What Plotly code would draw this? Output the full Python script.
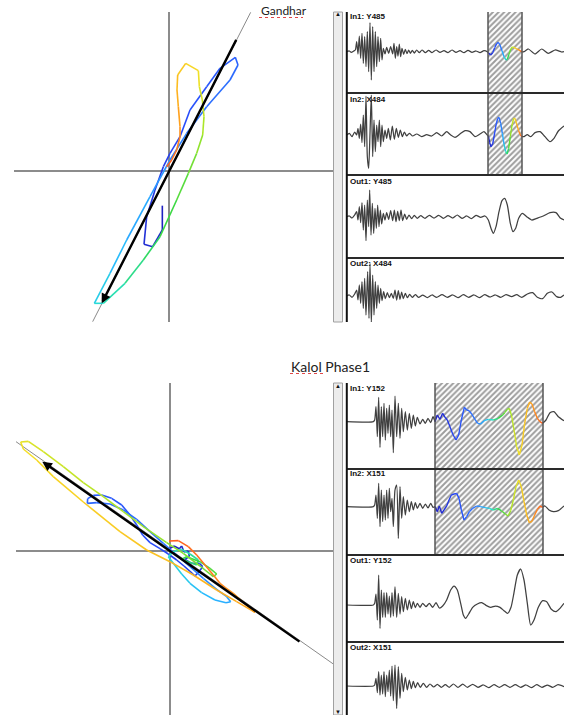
import plotly.graph_objects as go
from plotly.colors import sample_colorscale

W, H = 564, 715

# ---------------- Gandhar ----------------
# particle motion (X484 horizontal, Y485 vertical) inside the analysis window
gandhar_pm_x = [-21, -21, -50, -76, -68, -43, -18, 2, 32, 62, 112, 152, 198, 206, 182, 112, 52, 2, -58, -128,
                -178, -225, -198, -133, -78, -28, 22, 57, 82, 100, 104, 99, 90, 87, 49, 25, 23, 27, 32, 32, 22, 7, -8]
gandhar_pm_y = [-104, -177, -227, -220, -137, -57, 13, 53, 103, 183, 253, 308, 341, 318, 273, 193, 113, 33, -77, -207,
                -307, -397, -397, -337, -267, -197, -87, -7, 53, 108, 163, 213, 253, 301, 323, 288, 243, 193, 133, 103, 63, 33, 13]
gandhar_pol_x = [-230, 244]
gandhar_pol_y = [-452, 476]
gandhar_arrow_x = [203, -203]   # tail, head
gandhar_arrow_y = [398, -397]
gandhar_window = [424, 526]

gandhar_in1_t = [0, 8, 14, 20, 26, 30, 34, 38, 42, 46, 50, 54, 58, 62, 66, 70, 74, 78, 82, 86, 90, 94, 98, 102, 106,
                 110, 115, 120, 126, 132, 138, 142, 146, 150, 154, 158, 162, 166, 171, 176, 181, 186, 191, 197, 203,
                 210, 218, 226, 236, 246, 256, 268, 280, 292, 304, 316, 328, 340, 352, 364, 376, 388, 400, 412, 423,
                 425, 432, 438, 444, 450, 455, 460, 466, 472, 478, 482, 487, 492, 497, 502, 508, 514, 520, 526,
                 532, 545, 565, 585, 605, 625, 645, 652]
gandhar_in1_a = [0, 2, -2, 1, 5, 30, -7, 47, -20, 55, -35, 45, -45, 60, -60, 87, -85, 75, -60, 60, -45, 45, -30, 40, -25,
                 10, -7, 13, -5, 15, -7, 25, -20, 15, -13, 23, -15, 10, -8, 7, -6, 5, -5, 4, -4,
                 5, -3, 5, -3, 4, -3, 5, -2, 3, -3, 5, -2, 3, -3, 4, -2, 2, -3, 3, -1,
                 -3, -10, -3, 12, 24, 28, 20, 3, -15, -25, -23, -8, 7, 14, 13, 9, 7, 3, -1,
                 0, 8, -7, 8, -5, 5, -1, 0]

gandhar_in2_t = [0, 8, 16, 24, 30, 34, 38, 42, 46, 50, 54, 58, 62, 66, 70, 74, 78, 82, 86, 90, 94, 98, 102, 106, 110,
                 115, 120, 125, 131, 137, 143, 149, 155, 161, 167, 173, 180, 188, 198, 210, 225, 240, 255, 270, 285,
                 300, 312, 325, 340, 355, 370, 385, 400, 412, 422,
                 425, 429, 433, 438, 443, 448, 453, 457, 462, 467, 472, 477, 481, 486, 491, 496, 501, 505, 510, 516, 521, 526,
                 532, 542, 552, 565, 580, 595, 610, 622, 635, 652]
gandhar_in2_a = [0, 5, -5, 9, 0, 20, -10, 33, -23, 60, -35, 117, -65, -100, 5, 120, -65, 45, -50, 30, -20, 45, -35, 30, -20,
                 15, -10, 20, -15, 27, -13, 20, -7, 15, -5, 9, -3, 5, -3, 3, -5, 1, -3, 7, -3,
                 10, 0, -7, 3, 13, 10, -5, 3, 10, 0,
                 -3, -23, -35, -27, 0, 30, 50, 53, 35, 5, -27, -50, -57, -40, -5, 30, 50, 50, 33, 13, 0, -5,
                 -5, 1, -5, 7, 10, -5, -20, -10, 12, 27]

gandhar_out1_t = [0, 8, 16, 24, 30, 34, 38, 42, 46, 50, 54, 58, 62, 66, 69, 73, 77, 81, 85, 89, 93, 97, 101, 105, 110,
                  115, 120, 126, 132, 138, 143, 148, 153, 158, 163, 168, 174, 180, 187, 195, 203, 212, 222, 235, 248,
                  262, 276, 290, 304, 318, 332, 346, 360, 374, 388, 402, 415, 425, 433, 440, 448, 457, 466, 474, 482,
                  491, 499, 507, 516, 527, 540, 555, 570, 590, 610, 628, 642, 652]
gandhar_out1_a = [0, 2, -4, 5, 15, -10, 30, -18, 42, -40, 35, -72, 50, -30, 80, -55, 40, -50, 25, -35, 35, -30, 20, -22, 10,
                  -10, 12, -8, 18, -12, 20, -15, 16, -12, 20, -12, 8, -8, 5, -6, 4, -5, 3, -5, 4,
                  -4, 4, -5, 3, -4, 5, -5, 2, -6, 4, -2, 2, -10, -35, -50, -30, 15, 48, 55, 35,
                  -20, -45, -35, -5, 10, 0, -10, -5, 2, 12, 12, -5, -10]

gandhar_out2_t = [0, 8, 16, 24, 30, 34, 38, 42, 46, 50, 54, 58, 63, 67, 70, 74, 78, 82, 86, 90, 94, 98, 102, 106, 111,
                  116, 122, 128, 134, 140, 145, 150, 155, 160, 165, 170, 176, 182, 189, 197, 206, 216, 228, 242, 256,
                  270, 286, 302, 318, 334, 350, 366, 382, 398, 414, 430, 446, 462, 478, 495, 510, 525, 542, 558, 572,
                  588, 602, 616, 630, 642, 652]
gandhar_out2_a = [0, 3, -4, 6, 18, -12, 33, -22, 43, -37, 53, -57, 73, -67, 98, -82, 63, -57, 43, -37, 33, -22, 23, -14, 13,
                  -8, 10, -5, 8, -7, 18, -12, 16, -10, 12, -8, 8, -5, 5, -4, 4, -4, 3, -5, 3,
                  -4, 4, -4, 3, -5, 4, -4, 3, -5, 4, -3, 3, -4, 4, -2, 4, -4, 6, 10, -4,
                  -8, 8, 12, -2, -4, 3]

# ---------------- Kalol Phase1 ----------------
kalol_pm_x = [-5, 12, 28, 35, 42, 55, 58, 45, 65, 88, 98, 88, 75, 60, 42, 20, -5, -30,
              -60, -82, -100, -120, -145, -175, -205, -230, -247, -248, -220, -180, -140, -100, -60, -20,
              20, 60, 100, 140, 170, 182, 168, 135, 95, 60, 35,
              10, -5, 10, 35, 60, 85,
              80, 55, 35, 50, 90, 120, 140, 130, 90, 40, -10,
              -80, -140, -200, -260, -320, -380, -425, -448,
              -440, -400, -350, -260, -150, -70, 0, 70, 140, 200, 255,
              225, 190, 165,
              150, 130, 105, 80, 55, 25, -3]
kalol_pm_y = [4, 14, 6, 14, -4, -1, -18, -26, -38, -38, -48, -62, -76, -62, -46, -28, -10, 6,
              24, 47, 77, 107, 137, 157, 167, 166, 156, 142, 144, 140, 122, 94, 57, 22,
              -13, -48, -83, -116, -138, -153, -156, -148, -126, -98, -70,
              -38, -18, -3, 4, -10, -28,
              -43, -33, -26, -18, -33, -53, -70, -78, -46, -8, 24,
              72, 117, 162, 204, 252, 297, 328, 326,
              305, 272, 222, 146, 57, 2, -33, -73, -118, -153, -185,
              -160, -128, -110,
              -98, -73, -43, -13, 12, 30, 29]
kalol_pol_x = [-462, 490]
kalol_pol_y = [327, -340]
kalol_arrow_x = [393, -383]   # tail, head
kalol_arrow_y = [-276, 267]
kalol_window = [265, 589]

kalol_in1_t = [0, 80, 84, 88, 92, 96, 100, 104, 108, 112, 116, 120, 124, 128, 132, 136, 140, 145, 150, 155,
               160, 165, 170, 176, 182, 188, 194, 200, 206, 212, 220, 228, 236, 244, 252, 259,
               265, 272, 280, 288, 295, 302, 310, 318, 328, 336, 344, 353, 360, 367, 375, 385, 393, 402, 412, 425,
               440, 455, 468, 474, 482, 488, 495, 502, 510, 518, 526, 534, 542, 549, 556, 564, 572, 580, 588,
               598, 610, 622, 635, 652]
kalol_in1_a = [0, 0, 5, 45, -45, 73, -77, 45, -45, 55, -55, 40, -35, 50, -45, 35, -93, 77, -45, 55,
               -50, 40, -30, 30, -25, 25, -20, 20, -13, 13, -7, 7, -5, 10, -3, 15,
               0, 20, 7, 25, 13, 5, -15, -37, -55, -40, 5, 43, 35, 33, 23, 7, -5, -7, 3, 7,
               5, 10, 20, 27, 37, 40, 17, -25, -75, -100, -70, -5, 40, 59, 53, 30, 10, 0, -5,
               5, 27, 30, 15, 3]

kalol_in2_t = [0, 80, 84, 88, 92, 96, 100, 104, 108, 112, 116, 120, 124, 128, 132, 136, 140, 145, 150, 155,
               160, 165, 170, 176, 182, 188, 194, 200, 206, 212, 220, 228, 236, 244, 252, 259,
               265, 272, 278, 285, 292, 300, 307, 314, 322, 330, 337, 344, 352, 360, 368, 378, 390, 402, 415, 428,
               440, 452, 464, 476, 484, 492, 500, 508, 516, 524, 532, 540, 548, 556, 564, 572, 580, 588,
               595, 607, 620, 635, 652]
kalol_in2_a = [0, 0, 5, 35, -35, 70, -60, 50, -45, 35, -40, 50, -35, 55, -15, 25, -60, 50, 65, -95,
               60, -35, 30, -25, 20, -15, 15, -10, 12, -5, 10, -5, 8, -4, 10, -2,
               0, -15, 2, -20, -10, 2, 20, 35, 38, 40, 25, -10, -40, -30, -15, -5, 2, 0, -3, -5,
               -10, -5, -12, -22, -28, -12, 20, 60, 80, 60, 15, -25, -48, -44, -25, -8, 2, -2,
               2, -10, -15, -12, 2]

kalol_out1_t = [0, 80, 84, 88, 92, 96, 100, 104, 108, 112, 116, 120, 124, 128, 132, 136, 140, 145, 150, 155,
                160, 165, 170, 176, 182, 188, 194, 200, 206, 212, 220, 228, 238, 248, 258, 268, 278, 288, 300, 312,
                322, 332, 342, 350, 357, 366, 378, 392, 405, 418, 432, 446, 460, 472, 483, 493, 502, 512, 522, 532,
                542, 552, 562, 575, 588, 600, 614, 628, 640, 652]
kalol_out1_a = [0, 0, 5, 33, -45, 90, -70, 45, -37, 37, -37, 37, -27, 27, -37, 37, -33, 55, -37, 35,
                -27, 25, -20, 20, -15, 15, -11, 10, -8, 5, -7, 5, -5, 5, -7, 7, -9, -3, 15, 45,
                57, 45, 5, -30, -40, -27, -7, 3, 7, -1, -7, -3, -7, -17, -25, -7, 37, 90, 108, 75,
                5, -60, -45, -7, 13, 10, -13, -20, -10, 5]

kalol_out2_t = [0, 80, 84, 88, 92, 96, 100, 104, 108, 112, 116, 120, 124, 128, 132, 136, 140, 145, 150, 155,
                160, 165, 170, 176, 182, 188, 194, 200, 206, 213, 221, 230, 240, 250, 261, 272, 284, 296, 308, 320,
                334, 348, 362, 378, 394, 410, 426, 442, 458, 474, 490, 506, 522, 538, 554, 570, 586, 602, 618, 634, 652]
kalol_out2_a = [0, 0, 3, 23, -20, 43, -27, 33, -24, 43, -32, 33, -17, 48, -30, 60, -44, 63, -67, 58,
                -37, 38, -17, 26, -12, 18, -8, 14, -5, 10, -4, 8, -4, 6, -3, 5, -4, 4, -4, 6,
                -4, 6, -4, 5, -4, 3, -5, 4, -4, 4, -4, 4, -4, 3, -5, 4, -4, 3, -4, 4, -2]

# time-coded palette used for the particle motion and the windowed samples
jet_stops = [
    [0.00, "rgb(30,30,190)"],
    [0.20, "rgb(40,75,250)"],
    [0.38, "rgb(45,120,255)"],
    [0.46, "rgb(40,185,255)"],
    [0.52, "rgb(40,225,205)"],
    [0.60, "rgb(50,215,70)"],
    [0.70, "rgb(170,230,40)"],
    [0.78, "rgb(245,225,40)"],
    [0.88, "rgb(255,170,30)"],
    [1.00, "rgb(255,90,30)"],
]

WAVE_COLOR = "#404040"
fig = go.Figure()


def add_colored_path(xs, ys, fracs, xa, ya, width):
    mids = [(fracs[i] + fracs[i + 1]) / 2 for i in range(len(xs) - 1)]
    cols = sample_colorscale(jet_stops, mids)
    for i, c in enumerate(cols):
        fig.add_trace(go.Scatter(x=xs[i:i + 2], y=ys[i:i + 2], mode="lines",
                                 line=dict(color=c, width=width),
                                 xaxis=xa, yaxis=ya, hoverinfo="skip", showlegend=False))


def add_gray(xs, ys, xa, ya):
    fig.add_trace(go.Scatter(x=xs, y=ys, mode="lines",
                             line=dict(color=WAVE_COLOR, width=1.25, shape="spline", smoothing=0.6),
                             xaxis=xa, yaxis=ya, hoverinfo="skip", showlegend=False))


def add_wave(t, a, xa, ya, window=None):
    if window is None:
        add_gray(t, a, xa, ya)
        return
    w0, w1 = window
    i0 = next(i for i, v in enumerate(t) if v >= w0)
    i1 = max(i for i, v in enumerate(t) if v <= w1)
    add_gray(t[:i0 + 1], a[:i0 + 1], xa, ya)
    add_gray(t[i1:], a[i1:], xa, ya)
    ts, as_ = t[i0:i1 + 1], a[i0:i1 + 1]
    fr = [(v - w0) / (w1 - w0) for v in ts]
    add_colored_path(ts, as_, fr, xa, ya, 1.4)


def add_hodogram(px, py, polx, poly, xa, ya):
    fig.add_trace(go.Scatter(x=polx, y=poly, mode="lines", line=dict(color="#8a8a8a", width=1),
                             xaxis=xa, yaxis=ya, hoverinfo="skip", showlegend=False))
    n = len(px)
    add_colored_path(px, py, [i / (n - 1) for i in range(n)], xa, ya, 1.6)


def add_window_bar(window, yr, xa, ya):
    w0, w1 = window
    fig.add_trace(go.Bar(x=[(w0 + w1) / 2], y=[yr[1] - yr[0]], base=[yr[0]], width=[w1 - w0],
                         marker=dict(color="white", line=dict(width=0),
                                     pattern=dict(shape="/", fgcolor="#3c3c3c", bgcolor="white",
                                                  size=4, solidity=0.5)),
                         xaxis=xa, yaxis=ya, hoverinfo="skip", showlegend=False))


# waveform panels: axis id, top/bottom (px), amplitude range, label, label centre (px), data, window
panels = [
    ("3", 12, 93, [-124, 119], "In1: Y485", 16, gandhar_in1_t, gandhar_in1_a, gandhar_window),
    ("4", 93, 175, [-120, 126], "In2: X484", 99.5, gandhar_in2_t, gandhar_in2_a, gandhar_window),
    ("5", 175, 258, [-124, 125], "Out1: Y485", 181.5, gandhar_out1_t, gandhar_out1_a, None),
    ("6", 258, 322, [-78, 114], "Out2: X484", 263.5, gandhar_out2_t, gandhar_out2_a, None),
    ("7", 383, 469, [-142, 116], "In1: Y152", 388.5, kalol_in1_t, kalol_in1_a, kalol_window),
    ("8", 469, 555, [-145, 113], "In2: X151", 474, kalol_in2_t, kalol_in2_a, kalol_window),
    ("9", 555, 642, [-111, 150], "Out1: Y152", 560.5, kalol_out1_t, kalol_out1_a, None),
    ("10", 642, 715, [-87, 132], "Out2: X151", 647.5, kalol_out2_t, kalol_out2_a, None),
]

layout = dict(width=W, height=H, margin=dict(l=0, r=0, t=0, b=0),
              paper_bgcolor="white", plot_bgcolor="rgba(0,0,0,0)", showlegend=False)

hodo_axis = dict(showgrid=False, zeroline=True, zerolinecolor="#8c8c8c", zerolinewidth=1.5,
                 showticklabels=False, ticks="", showline=False, fixedrange=True)
layout["xaxis"] = dict(hodo_axis, domain=[14 / W, 334 / W], range=[-466, 494], anchor="y")
layout["yaxis"] = dict(hodo_axis, domain=[1 - 322 / H, 1 - 12 / H], range=[-453, 477], anchor="x")
layout["xaxis2"] = dict(hodo_axis, domain=[16 / W, 334 / W], range=[-462, 492], anchor="y2")
layout["yaxis2"] = dict(hodo_axis, domain=[0, 1 - 383 / H], range=[-493, 503], anchor="x2")

annotations = []
shapes = []

for pid, top, bot, yr, label, lab_py, t, a, win in panels:
    layout["xaxis" + pid] = dict(domain=[346 / W, 1], range=[-2, 652], visible=False,
                                 anchor="y" + pid, fixedrange=True)
    layout["yaxis" + pid] = dict(domain=[1 - bot / H, 1 - top / H], range=yr, visible=False,
                                 anchor="x" + pid, fixedrange=True)
    if win is not None:
        add_window_bar(win, yr, "x" + pid, "y" + pid)
    annotations.append(dict(x=348 / W, y=1 - lab_py / H, xref="paper", yref="paper",
                            text="<b>%s</b>" % label, showarrow=False, xanchor="left", yanchor="middle",
                            font=dict(family="Liberation Sans", size=8, color="#111")))

for pid, top, bot, yr, label, lab_py, t, a, win in panels:
    add_wave(t, a, "x" + pid, "y" + pid, win)

add_hodogram(gandhar_pm_x, gandhar_pm_y, gandhar_pol_x, gandhar_pol_y, "x", "y")
add_hodogram(kalol_pm_x, kalol_pm_y, kalol_pol_x, kalol_pol_y, "x2", "y2")

# polarisation arrows
for xa, ya, ax_, ay_ in [("x", "y", gandhar_arrow_x, gandhar_arrow_y), ("x2", "y2", kalol_arrow_x, kalol_arrow_y)]:
    annotations.append(dict(x=ax_[1], y=ay_[1], ax=ax_[0], ay=ay_[0], xref=xa, yref=ya, axref=xa, ayref=ya,
                            text="", showarrow=True, arrowhead=2, arrowsize=0.8, arrowwidth=2.4,
                            arrowcolor="black", standoff=0))

# window edges
for pid_top, pid_bot, win, top, bot in [("3", "4", gandhar_window, 12, 175), ("7", "8", kalol_window, 383, 555)]:
    for w in win:
        shapes.append(dict(type="line", xref="x" + pid_top, yref="paper", x0=w, x1=w,
                           y0=1 - bot / H, y1=1 - top / H, line=dict(color="#555", width=1.5)))

# panel separators
for py in [93, 175, 258, 469, 555, 642]:
    shapes.append(dict(type="line", xref="paper", yref="paper", x0=346 / W, x1=1, y0=1 - py / H, y1=1 - py / H,
                       line=dict(color="#2a2a2a", width=2)))

# scroll bars and left borders of the trace views
for top, bot in [(12, 322), (383, 715)]:
    shapes.append(dict(type="rect", xref="paper", yref="paper", x0=333.5 / W, x1=342.5 / W,
                       y0=1 - bot / H, y1=1 - top / H, fillcolor="#ececec", line=dict(color="#a0a0a0", width=1)))
    shapes.append(dict(type="line", xref="paper", yref="paper", x0=346.8 / W, x1=346.8 / W,
                       y0=1 - bot / H, y1=1 - top / H, line=dict(color="#111", width=2)))

for sym, px, py in [("▲", 338, 14.5), ("▲", 338, 385.5), ("▼", 337.5, 712)]:
    annotations.append(dict(x=px / W, y=1 - py / H, xref="paper", yref="paper", text=sym, showarrow=False,
                            font=dict(size=6, color="#111"), xanchor="center", yanchor="middle"))

# site titles
annotations.append(dict(x=259 / W, y=1 - 11 / H, xref="paper", yref="paper", text="Gandhar", showarrow=False,
                        xanchor="left", yanchor="middle", font=dict(family="Lato", size=12, color="#222")))
annotations.append(dict(x=289 / W, y=1 - 366 / H, xref="paper", yref="paper", text="Kalol Phase1", showarrow=False,
                        xanchor="left", yanchor="middle", font=dict(family="Lato", size=14, color="#222")))
for x0, x1, py in [(259, 303, 17.5), (290, 323, 373.5)]:
    shapes.append(dict(type="line", xref="paper", yref="paper", x0=x0 / W, x1=x1 / W, y0=1 - py / H, y1=1 - py / H,
                       line=dict(color="#e04848", width=1.2, dash="dot")))

layout["annotations"] = annotations
layout["shapes"] = shapes
fig.update_layout(**layout)
fig.write_html("out.html")
